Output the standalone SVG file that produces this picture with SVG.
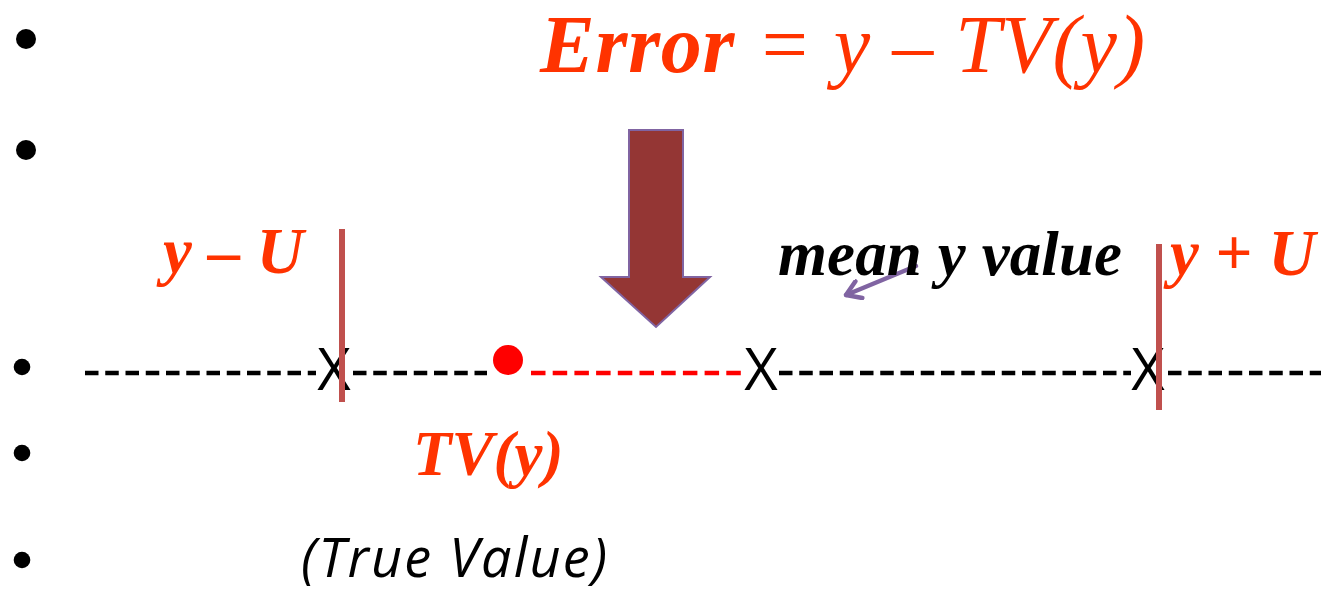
<svg xmlns="http://www.w3.org/2000/svg" width="1321" height="592" viewBox="0 0 1321 592">
<style>
.serif{font-family:"Liberation Serif","Times New Roman",serif;font-style:italic;font-weight:bold}
.red{fill:#FF3300}
.blk{fill:#000}
.xm{font-family:"Open Sans","Liberation Sans",sans-serif;font-size:58px;fill:#000;text-anchor:middle}
.dash{stroke:#000;stroke-width:4.5;stroke-dasharray:13.5 6.75;fill:none}
.dashr{stroke:#FF0000;stroke-width:4.5;stroke-dasharray:14.5 7.2;fill:none}
.bar{stroke:#C0504D;stroke-width:6}
</style>
<defs>
<marker id="openArrow" markerWidth="22" markerHeight="22" refX="17" refY="11" orient="auto" markerUnits="userSpaceOnUse" viewBox="0 0 22 22">
<path d="M3,2 L17,11 L3,20" fill="none" stroke="#8064A2" stroke-width="4.5" stroke-linecap="round" stroke-linejoin="round"/>
</marker>
</defs>
<rect width="1321" height="592" fill="#fff"/>
<g id="bullets" fill="#000">
<circle cx="26" cy="39" r="10"/>
<circle cx="26" cy="150" r="10"/>
<circle cx="22" cy="367" r="8.3"/>
<circle cx="22" cy="453" r="8.3"/>
<circle cx="22" cy="560" r="8.3"/>
</g>
<g id="title">
<text class="serif red" x="540" y="72" font-size="82" textLength="605" lengthAdjust="spacing">Error<tspan font-weight="normal"> = y – TV(y)</tspan></text>
</g>
<g id="connectors">
<line class="dash" x1="85" y1="373" x2="316" y2="373"/>
<line class="dash" x1="353" y1="373" x2="487" y2="373"/>
<line class="dashr" x1="531" y1="373" x2="742" y2="373"/>
<line class="dash" x1="779" y1="373" x2="1131" y2="373"/>
<line class="dash" x1="1168" y1="373" x2="1321" y2="373"/>
<line x1="916" y1="266" x2="846" y2="295" stroke="#8064A2" stroke-width="4.5" stroke-linecap="round" marker-end="url(#openArrow)"/>
</g>
<g id="big-arrow">
<polygon points="629,130 683,130 683,277 710,277 656,327 601,277 629,277" fill="#943634" stroke="#8064A2" stroke-width="2"/>
</g>
<g id="marks">
<text class="xm" x="334" y="390">X</text>
<text class="xm" x="761" y="390">X</text>
<text class="xm" x="1148" y="390">X</text>
</g>
<g id="bar-left"><line class="bar" x1="342" y1="229" x2="342" y2="402"/></g>
<g id="bar-right"><line class="bar" x1="1159" y1="244" x2="1159" y2="410"/></g>
<g id="true-value-dot"><circle cx="508" cy="360" r="15" fill="#FF0000"/></g>
<g id="label-y-minus-u"><text class="serif red" x="163" y="273" font-size="65">y – U</text></g>
<g id="label-y-plus-u"><text class="serif red" x="1170" y="275" font-size="65">y + U</text></g>
<g id="label-mean"><text class="serif blk" x="778" y="275" font-size="63" textLength="344" lengthAdjust="spacing">mean y value</text></g>
<g id="label-tv"><text class="serif red" x="413" y="475" font-size="63">TV(y)</text></g>
<g id="label-true-value"><text x="301" y="577" font-family="'Open Sans','Liberation Sans',sans-serif" font-style="italic" font-size="54" textLength="306" lengthAdjust="spacing" fill="#000">(True Value)</text></g>
</svg>
